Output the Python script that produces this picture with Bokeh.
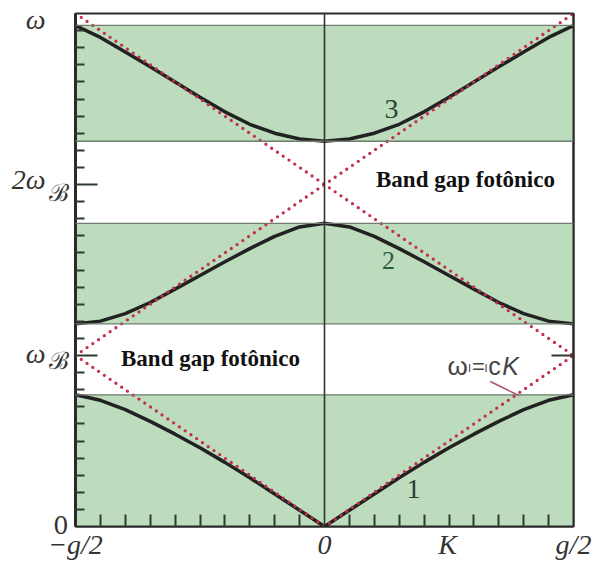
from bokeh.plotting import figure
from bokeh.models import Range1d, FixedTicker, LinearAxis, Label, Span
from bokeh.embed import file_html
from bokeh.resources import INLINE

# Wave vector K (units of g), non-negative half of the first Brillouin zone
k_half = [0.0, 0.05, 0.10, 0.15, 0.20, 0.25, 0.30, 0.35, 0.40, 0.45, 0.50]

# Photonic band frequencies (units of omega_B) on k_half
band1_half = [0.0, 0.095, 0.19, 0.285, 0.375, 0.46, 0.54, 0.615, 0.683, 0.738, 0.77]
band2_half = [1.773, 1.752, 1.697, 1.625, 1.548, 1.468, 1.388, 1.31, 1.245, 1.201, 1.185]
band3_half = [2.253, 2.266, 2.30, 2.352, 2.425, 2.51, 2.60, 2.688, 2.775, 2.86, 2.93]

# Allowed bands (bottom, top), units of omega_B
band_bottom = [0.0, 1.185, 2.253]
band_top = [0.77, 1.773, 2.93]

# Folded free-photon line omega = c|K| (three branches)
light_k = [-0.5, 0.0, 0.5]
light_w1 = [1.0, 0.0, 1.0]
light_w2 = [1.0, 2.0, 1.0]
light_w3 = [3.0, 2.0, 3.0]

# Axis ticks and tick labels
x_ticks = [-0.5, 0.0, 0.247, 0.5]
x_tick_labels = {-0.5: "\u2212g/2", 0.0: "0", 0.247: "K", 0.5: "g/2"}
x_minor = [round(-0.45 + 0.05 * i, 2) for i in range(19) if abs(-0.45 + 0.05 * i) > 1e-9]
y_ticks = [1.0, 2.0]
y_minor = [round(0.1 * i, 1) for i in range(1, 30) if i % 10 != 0]
# frequency labels: main symbol column and subscript column
y_sym_ticks = [1.012, 2.03, 2.966]
y_sym_labels = {1.012: "\u03c9", 2.03: "2\u03c9", 2.966: "\u03c9"}
y_sub_ticks = [0.001, 0.965, 1.953]
y_sub_labels = {0.001: "0", 0.965: "\u212c", 1.953: "\u212c"}

# symmetric bands: mirror the half-zone samples to negative K
k = [-v for v in reversed(k_half[1:])] + k_half
def mirror(vals):
    return list(reversed(vals[1:])) + vals
band1 = mirror(band1_half)
band2 = mirror(band2_half)
band3 = mirror(band3_half)

GREEN = "#bcdcbd"
RED = "#c42f4b"
INK = "#222222"
TICK = "#2f3a33"
PX_PER_UNIT = 171.0

p = figure(width=592, height=569, output_backend="svg", toolbar_location=None,
           x_range=Range1d(-0.5, 0.5), y_range=Range1d(0, 3.0),
           min_border_left=75, min_border_right=19, min_border_top=13,
           min_border_bottom=43, background_fill_color="white",
           border_fill_color="white")
p.grid.visible = False
p.outline_line_color = "#2a2a2a"
p.outline_line_width = 2

# bottom axis: minor ticks inside, labels -g/2, 0, K, g/2
xa = p.xaxis[0]
xa.ticker = FixedTicker(ticks=x_ticks, minor_ticks=x_minor)
xa.major_label_overrides = x_tick_labels
xa.major_tick_in = 0
xa.major_tick_out = 0
xa.minor_tick_in = 12
xa.minor_tick_out = 0
xa.minor_tick_line_color = TICK
xa.minor_tick_line_width = 2
xa.axis_line_width = 2
xa.axis_line_color = "#2a2a2a"
xa.major_label_text_font = "Liberation Serif"
xa.major_label_text_font_style = "italic"
xa.major_label_text_font_size = "28px"
xa.major_label_text_color = "#333333"
xa.major_label_standoff = 2

# left axis: inward ticks only
ya = p.yaxis[0]
ya.ticker = FixedTicker(ticks=y_ticks, minor_ticks=y_minor)
ya.major_label_overrides = {1.0: "", 2.0: ""}
ya.major_label_standoff = 0
ya.major_tick_in = 22
ya.major_tick_out = 0
ya.minor_tick_in = 9
ya.minor_tick_out = 0
ya.major_tick_line_width = 2
ya.minor_tick_line_width = 2
ya.major_tick_line_color = TICK
ya.minor_tick_line_color = TICK
ya.axis_line_width = 3
ya.axis_line_color = "#2a2a2a"

# label columns beside the left axis (subscripts nearest, symbols outside)
sub_axis = LinearAxis(ticker=FixedTicker(ticks=y_sub_ticks, minor_ticks=[]),
                      major_label_overrides=y_sub_labels,
                      axis_line_color=None, major_tick_line_color=None,
                      minor_tick_line_color=None, major_tick_in=0,
                      major_tick_out=0, major_label_standoff=7,
                      major_label_text_font="DejaVu Serif",
                      major_label_text_font_size="24px",
                      major_label_text_color="#333333")
p.add_layout(sub_axis, "left")
sym_axis = LinearAxis(ticker=FixedTicker(ticks=y_sym_ticks, minor_ticks=[]),
                      major_label_overrides=y_sym_labels,
                      axis_line_color=None, major_tick_line_color=None,
                      minor_tick_line_color=None, major_tick_in=0,
                      major_tick_out=0, major_label_standoff=0,
                      major_label_text_font="Liberation Serif",
                      major_label_text_font_style="italic",
                      major_label_text_font_size="28px",
                      major_label_text_color="#333333")
p.add_layout(sym_axis, "left")

ra = LinearAxis(ticker=FixedTicker(ticks=[1.0], minor_ticks=[]),
                major_label_overrides={1.0: ""}, major_tick_in=22,
                major_tick_out=0, minor_tick_in=0, minor_tick_out=0,
                major_tick_line_width=2, major_tick_line_color=TICK,
                axis_line_width=2, axis_line_color="#2a2a2a")
p.add_layout(ra, "right")

# allowed bands
p.quad(left=-0.5, right=0.5, bottom=band_bottom, top=band_top,
       fill_color=GREEN, line_color=None)
edges = [v for v in band_bottom + band_top if v > 0]
for e in edges:
    p.add_layout(Span(location=e, dimension="width", line_color="#6f7d6c",
                      line_width=1.3))

# K = 0 line
p.add_layout(Span(location=0, dimension="height", line_color="#333333",
                  line_width=1.6))

# dispersion curves
for w in (band1, band2, band3):
    p.line(k, w, line_color=INK, line_width=3.5, line_cap="round")

# free-photon light lines
for w in (light_w1, light_w2, light_w3):
    p.line(light_k, w, line_color=RED, line_width=3.3, line_dash="0 7",
           line_cap="round")

# pointer to the light-line label
p.segment(x0=[0.333], y0=[0.848], x1=[0.39], y1=[0.766],
          line_color="#b0506a", line_width=1.5)

def lab(x, y, text, size, font="Liberation Serif", style="normal",
        align="left", color="#333333"):
    # y is the text baseline; lift by the renderer's descent allowance
    y = y + 0.3 * size / PX_PER_UNIT
    p.add_layout(Label(x=x, y=y, text=text, text_font=font,
                       text_font_style=style, text_font_size=f"{size}px",
                       text_align=align, text_baseline="alphabetic",
                       text_color=color))

# band indices
lab(0.1787, 0.1696, "1", 28, align="center", color="#2e3a30")
lab(0.1285, 1.509, "2", 26, align="center", color="#2f5a3c")
lab(0.1345, 2.392, "3", 28, align="center", color="#2a4430")

# photonic band gaps
lab(-0.229, 0.9415, "Band gap fot\u00f4nico", 23, style="bold",
    align="center", color="#111111")
lab(0.2831, 1.988, "Band gap fot\u00f4nico", 23, style="bold",
    align="center", color="#111111")

# light-line label
lab(0.247, 0.895, "\u03c9", 26, font="Liberation Sans", color="#444444")
lab(0.288, 0.906, "I", 11, font="Liberation Sans", color="#444444")
lab(0.296, 0.895, "=", 22, font="Liberation Sans", color="#444444")
lab(0.3213, 0.906, "I", 11, font="Liberation Sans", color="#444444")
lab(0.329, 0.895, "c", 25, font="Liberation Sans", color="#444444")
lab(0.357, 0.895, "K", 25, font="Liberation Sans", style="italic",
    color="#444444")

open("out.html", "w").write(file_html(p, INLINE))
